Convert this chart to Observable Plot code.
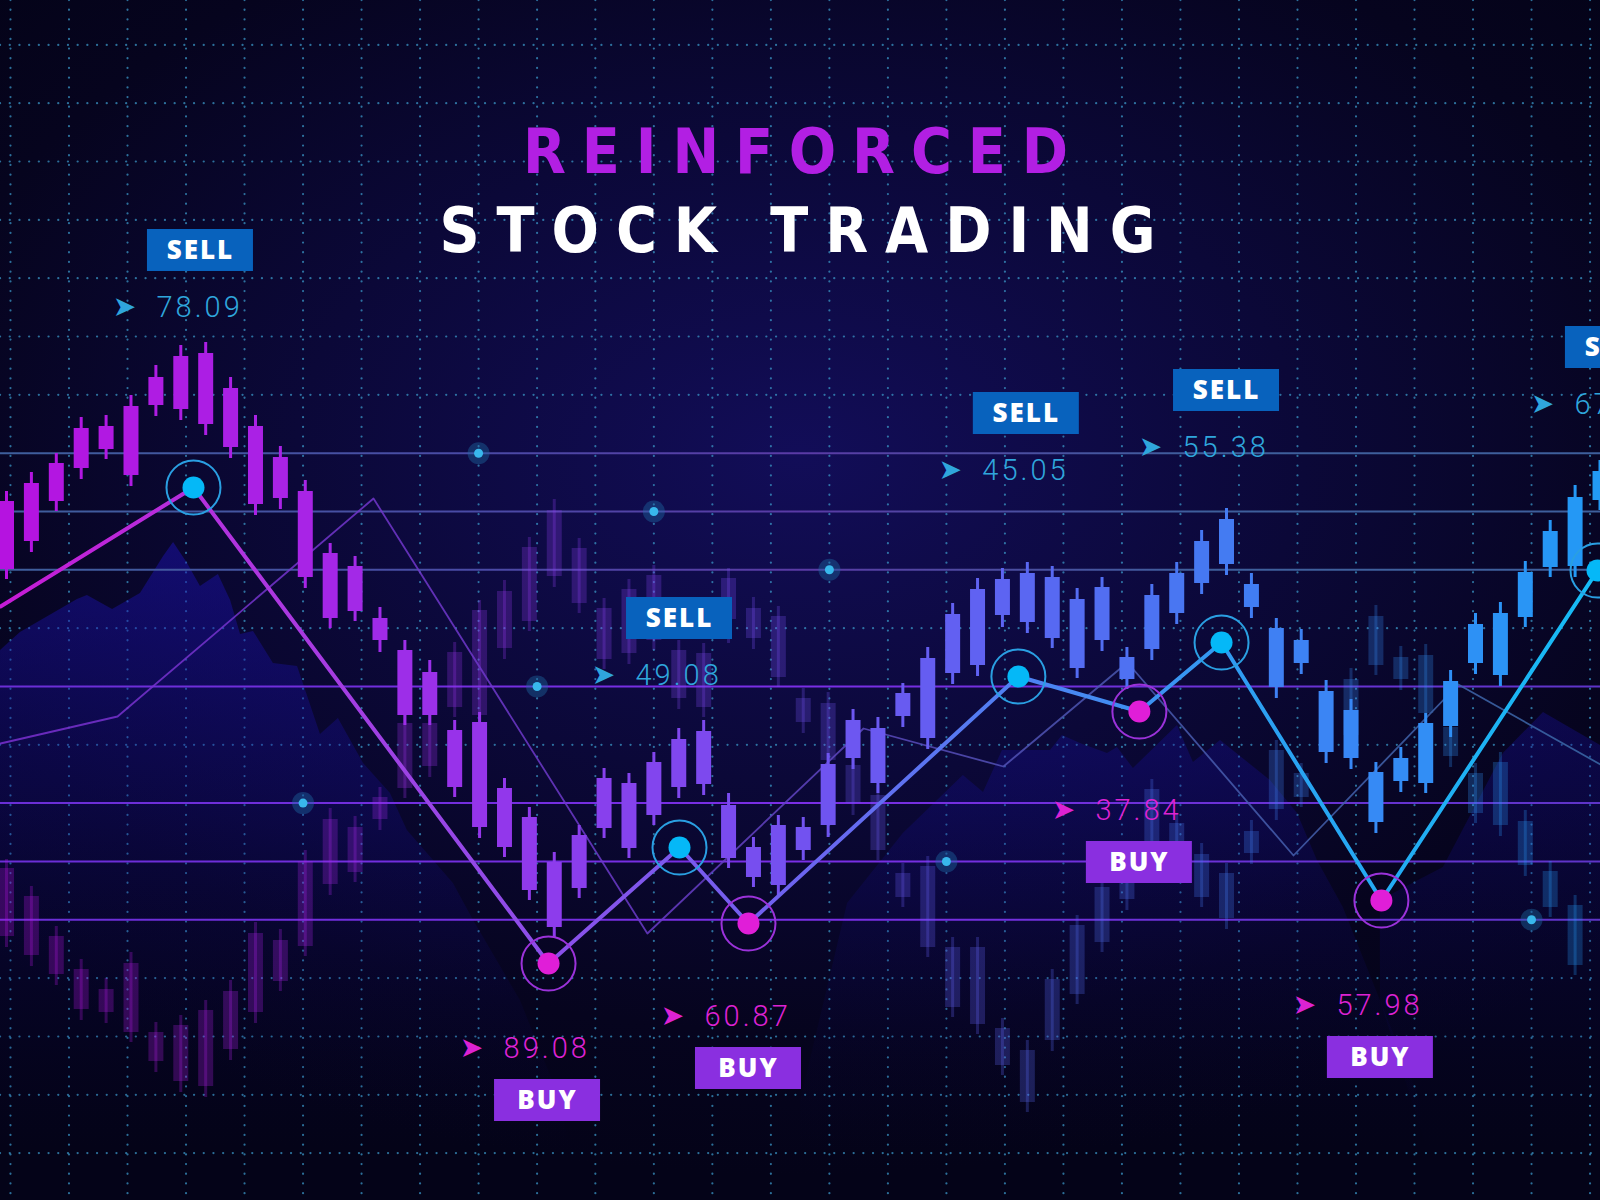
<!DOCTYPE html>
<html>
<head>
<meta charset="utf-8">
<script src="https://cdn.jsdelivr.net/npm/d3@7"></script>
<script src="https://cdn.jsdelivr.net/npm/@observablehq/plot@0.6"></script>
<style>
  html, body { margin: 0; padding: 0; overflow: hidden; background: #05041a; }
  #chart svg { display: block; }
</style>
</head>
<body>
<div id="chart"></div>
<script>
// candle index on x, price on y (0 at the bottom edge, 120 at the top)
// front candles: [high, bodyTop, bodyBottom, low], one per index 0..64
const front = [
  [70.9,69.9,63.1,62.1],[72.8,71.7,65.9,64.8],[74.7,73.7,69.9,68.9],[78.3,77.2,73.2,72.1],
  [78.5,77.4,75.1,74.1],[80.5,79.4,72.5,71.4],[83.5,82.3,79.5,78.4],[85.5,84.4,79.1,78.0],
  [85.8,84.7,77.6,76.5],[82.3,81.2,75.3,74.2],[78.5,77.4,69.6,68.5],[75.4,74.3,70.2,69.1],
  [72.0,70.9,62.3,61.2],[65.7,64.7,58.2,57.2],[64.4,63.4,58.9,57.9],[59.3,58.2,56.0,54.8],
  [56.0,55.0,48.5,47.5],[54.0,52.8,48.5,47.5],[48.0,47.0,41.3,40.3],[48.8,47.8,37.3,36.2],
  [42.2,41.2,35.3,34.3],[39.3,38.3,31.0,30.0],[34.8,33.8,27.3,26.3],[37.5,36.5,31.2,30.2],
  [43.2,42.2,37.2,36.2],[42.7,41.7,35.2,34.2],[44.8,43.8,38.5,37.5],[47.2,46.1,41.3,40.2],
  [48.0,46.9,41.6,40.5],[40.7,39.5,34.2,33.2],[36.3,35.3,32.3,31.3],[38.5,37.5,31.5,30.5],
  [38.3,37.3,35.0,34.0],[44.7,43.6,37.5,36.3],[49.1,48.0,44.2,43.1],[48.3,47.2,41.7,40.7],
  [51.7,50.7,48.4,47.3],[55.3,54.2,46.2,45.1],[59.7,58.6,52.7,51.6],[62.2,61.1,53.5,52.4],
  [63.2,62.1,58.5,57.3],[63.8,62.7,57.8,56.7],[63.4,62.3,56.2,55.2],[61.2,60.1,53.2,52.2],
  [62.3,61.3,56.0,54.9],[55.3,54.3,52.1,51.1],[61.6,60.5,55.1,54.0],[63.8,62.7,58.7,57.6],
  [67.0,65.9,61.7,60.6],[69.2,68.1,63.6,62.5],[62.7,61.6,59.3,58.2],[58.2,57.2,51.3,50.2],
  [57.1,56.0,53.7,52.6],[52.0,50.9,44.8,43.7],[50.1,49.0,44.2,43.1],[43.8,42.8,37.8,36.7],
  [45.3,44.2,41.9,40.8],[48.7,47.7,41.7,40.7],[53.0,51.9,47.4,46.3],[58.7,57.6,53.7,52.6],
  [59.8,58.7,52.5,51.4],[63.9,62.8,58.3,57.3],[68.0,66.9,63.3,62.3],[71.5,70.3,63.4,62.3],
  [74.0,72.9,70.0,69.0]
]

// faded candles behind: [index, high, bodyTop, bodyBottom, low]
const back = [
  [0,34.1,33.2,26.4,25.3],[1,31.4,30.4,24.5,23.4],[2,27.4,26.4,22.6,21.5],[3,24.1,23.1,19.1,18.0],
  [4,22.2,21.1,18.8,17.7],[5,24.8,23.7,16.8,15.8],[6,17.8,16.8,13.9,12.8],[7,18.5,17.5,11.9,10.8],
  [8,20.0,19.0,11.4,10.3],[9,22.0,20.9,15.1,14.0],[10,27.8,26.7,18.8,17.7],[11,27.1,26.0,21.9,20.9],
  [12,35.0,33.9,25.4,24.4],[13,39.2,38.1,31.6,30.5],[14,38.4,37.3,32.8,31.8],[15,41.3,40.3,38.1,37.0],
  [16,48.7,47.7,41.2,40.2],[17,48.7,47.7,43.4,42.3],[18,55.8,54.8,49.3,48.3],[19,60.0,59.0,48.5,47.5],
  [20,62.0,60.9,55.2,54.1],[21,66.3,65.3,57.9,56.9],[22,70.1,69.0,62.4,61.3],[23,66.2,65.2,59.7,58.7],
  [24,60.2,59.2,54.1,53.1],[25,62.1,61.1,54.7,53.6],[26,63.5,62.5,56.0,55.0],[27,56.0,55.0,50.2,49.1],
  [28,55.7,54.7,49.3,48.3],[29,63.2,62.2,58.1,55.7],[30,60.3,59.2,56.2,55.1],[31,59.4,58.4,52.3,51.3],
  [32,51.2,50.2,47.8,46.7],[33,50.8,49.7,44.0,43.0],[34,44.5,43.5,39.7,38.5],[35,41.5,40.5,35.0,34.0],
  [36,33.7,32.7,30.3,29.3],[37,34.4,33.4,25.3,24.3],[38,26.3,25.3,19.3,18.3],[39,26.3,25.3,17.6,16.6],
  [40,18.2,17.2,13.5,12.5],[41,16.0,15.0,9.8,8.8],[42,23.1,22.1,16.0,14.9],[43,28.5,27.5,20.6,19.6],
  [44,32.3,31.3,25.8,24.8],[45,33.3,32.3,30.1,29.0],[46,42.1,41.1,35.8,34.8],[47,38.7,37.7,33.0,32.0],
  [48,35.7,34.6,30.3,29.3],[49,33.7,32.7,28.2,27.1],[50,38.0,36.9,34.7,33.6],[51,46.0,45.0,39.1,38.0],
  [52,43.7,42.7,40.3,39.3],[54,53.2,52.1,46.5,45.5],[55,59.5,58.4,53.5,52.5],[56,55.4,54.3,52.1,51.0],
  [57,55.6,54.5,48.7,47.7],[58,48.4,47.3,44.4,43.3],[59,43.7,42.7,38.7,37.7],[60,44.8,43.8,37.5,36.4],
  [61,39.0,37.9,33.5,32.4],[62,33.9,32.9,29.3,28.3],[63,30.5,29.5,23.5,22.5]
]

// trade path (thick line) and its turning points
const pathX = [-0.24, 7.51, 21.77, 27.03, 29.8, 40.64, 45.5, 48.8, 55.22, 63.9]
const pathY = [59.4, 71.3, 23.7, 35.3, 27.7, 52.4, 48.9, 55.8, 30.0, 63.0]
const pathSignal = ["", "sell", "buy", "sell", "buy", "sell", "buy", "sell", "buy", "sell"]

// thin trend line behind
const trendX = [-0.24, 4.46, 14.74, 25.74, 34.42, 40.04, 45.02, 51.69, 58.31, 64.02]
const trendY = [45.7, 48.4, 70.2, 26.7, 47.2, 43.4, 53.8, 34.5, 51.6, 43.6]

// shaded volume-like silhouettes
const leftAreaX = [-0.24, 0.56, 2.85, 3.25, 4.26, 5.38, 6.31, 6.71, 7.27, 7.79, 8.51, 9.0, 9.4, 9.92, 10.72, 11.69, 12.61, 13.33, 14.34, 15.42, 16.1, 17.15, 17.95, 18.76, 20.64, 22.25, 23.05]
const leftAreaY = [55.0, 56.8, 60.1, 60.5, 59.1, 60.7, 64.4, 65.8, 63.7, 61.4, 62.6, 60.0, 56.6, 56.9, 53.7, 53.4, 46.6, 48.2, 43.7, 40.7, 37.0, 34.0, 31.7, 28.0, 20.0, 10.0, 0]
const rightAreaX = [31.9, 33.78, 36.02, 38.43, 39.24, 40.0, 41.93, 42.41, 43.13, 44.22, 44.62, 45.26, 47.03, 47.67, 48.76, 50.76, 51.85, 52.65, 53.69, 55.18, 56.79]
const rightAreaY = [10.0, 29.7, 36.7, 42.5, 40.8, 45.0, 45.0, 46.5, 45.7, 44.7, 45.3, 43.2, 47.5, 43.8, 46.0, 42.0, 38.7, 34.0, 29.3, 20.0, 10.0]
const edgeAreaX = [55.18, 57.71, 60.12, 61.73, 64.02]
const edgeAreaY = [10.0, 33.3, 44.7, 48.8, 45.5]

// grid
const gridX = [0.16, 2.51, 4.86, 7.21, 9.56, 11.91, 14.26, 16.61, 18.96, 21.31, 23.65, 26.0, 28.35, 30.7, 33.05, 35.4, 37.75, 40.1, 42.45, 44.8, 47.15, 49.5, 51.85, 54.2, 56.55, 58.9, 61.25, 63.6]
const gridY = [115.56, 109.73, 103.9, 98.06, 92.23, 86.4, 80.57, 57.23, 45.57, 22.24, 16.4, 10.57, 4.74]
const levelsBlue = [74.73, 68.9, 63.07]
const levelsPurple = [51.4, 39.74, 33.9, 28.07]

// glowing grid nodes
const nodeX = [18.96, 26.0, 21.31, 11.91, 33.05, 37.75, 61.25]
const nodeY = [74.73, 68.9, 51.4, 39.74, 63.07, 33.9, 28.07]

// signal tags
const sellTagX = [7.79, 27.03, 40.96, 49.0, 64.74]
const sellTagY = [95.0, 58.2, 78.7, 81.0, 85.3]
const sellValues = ["78.09", "49.08", "45.05", "55.38", "67.45"]
const buyTagX = [21.73, 29.8, 45.5, 55.18]
const buyTagY = [10.0, 13.2, 33.8, 14.3]
const buyValues = ["89.08", "60.87", "37.84", "57.98"]

const title = "REINFORCED"
const subtitle = "STOCK TRADING"

const frontCandles = front.map(([high, top, bottom, low], i) => ({i, high, top, bottom, low}))
const backCandles = back.map(([i, high, top, bottom, low]) => ({i, high, top, bottom, low}))
const path = pathX.map((x, k) => ({x, y: pathY[k], signal: pathSignal[k]}))
const trend = trendX.map((x, k) => ({x, y: trendY[k]}))
const areas = [
  ...leftAreaX.map((x, k) => ({x, y: leftAreaY[k], part: "left"})),
  ...rightAreaX.map((x, k) => ({x, y: rightAreaY[k], part: "right"})),
  ...edgeAreaX.map((x, k) => ({x, y: edgeAreaY[k], part: "edge"}))
]
const nodes = nodeX.map((x, k) => ({x, y: nodeY[k]}))
const sells = sellTagX.map((x, k) => ({x, y: sellTagY[k], value: sellValues[k], tag: "SELL"}))
const buys = buyTagX.map((x, k) => ({x, y: buyTagY[k], value: buyValues[k], tag: "BUY"}))

const gradients = () => {
  const defs = d3.create("svg:defs")
  const add = (id, stops, vertical) => {
    const g = defs.append("linearGradient").attr("id", id).attr("gradientUnits", "userSpaceOnUse")
      .attr("x1", 0).attr("y1", vertical ? 520 : 0).attr("x2", vertical ? 0 : 1600).attr("y2", vertical ? 1150 : 0)
    stops.forEach(([o, c, a]) => g.append("stop").attr("offset", o).attr("stop-color", c).attr("stop-opacity", a ?? 1))
  }
  add("zig", [[0, "#c61bd6"], [0.15, "#b034de"], [0.35, "#8a50ea"], [0.5, "#6c64f0"], [0.65, "#4c84f2"], [0.8, "#2aa2f2"], [1, "#16bcf5"]])
  add("trend", [[0, "#7a2fd0"], [0.4, "#6a3ac8"], [0.7, "#4a58b0"], [1, "#3a6aa8"]])
  add("shade", [[0, "#1d12b8", 0.5], [0.45, "#150d90", 0.3], [1, "#0a0650", 0]], true)
  add("levelBlue", [[0, "#3e5f9c"], [0.3, "#4a4aa6"], [0.5, "#5a3aa6"], [0.75, "#3e5f9c"], [1, "#3e5f9c"]])
  add("levelPurple", [[0, "#6a2ed6"], [0.5, "#7a2ee6"], [1, "#5e34c8"]])
  return defs.node()
}

const chart = Plot.plot({
  width: 1600,
  height: 1200,
  margin: 0,
  x: {domain: [-0.241, 64.02], axis: null},
  y: {domain: [0, 120], axis: null},
  color: {
    type: "linear",
    domain: [0, 12, 22, 32, 40, 48, 55, 64],
    range: ["#b513e0", "#a824e6", "#8d3cec", "#7252f0", "#5d64f2", "#4678f2", "#368af5", "#229af5"],
    interpolate: "rgb"
  },
  style: {
    background: "radial-gradient(ellipse 70% 60% at 50% 38%, #120d58 0%, #0b0838 45%, #06041e 80%, #040318 100%)",
    fontFamily: "Roboto"
  },
  marks: [
    gradients,
    Plot.ruleX(gridX, {stroke: "#3a94c4", strokeWidth: 2.2, strokeLinecap: "round", strokeDasharray: "0.1 9.6", strokeOpacity: 0.75}),
    Plot.ruleY(gridY, {stroke: "#3a94c4", strokeWidth: 2.2, strokeLinecap: "round", strokeDasharray: "0.1 9.6", strokeOpacity: 0.75}),
    Plot.areaY(areas, {x: "x", y: "y", z: "part", fill: "url(#shade)"}),
    Plot.ruleY(levelsBlue, {stroke: "url(#levelBlue)", strokeWidth: 2}),
    Plot.ruleY(levelsPurple, {stroke: "url(#levelPurple)", strokeWidth: 2}),
    Plot.ruleX(backCandles, {x: "i", y1: "low", y2: "high", stroke: "i", strokeWidth: 3, strokeOpacity: 0.28}),
    Plot.ruleX(backCandles, {x: "i", y1: "bottom", y2: "top", stroke: "i", strokeWidth: 15, strokeOpacity: 0.28}),
    Plot.line(trend, {x: "x", y: "y", stroke: "url(#trend)", strokeWidth: 1.8, strokeOpacity: 0.85}),
    Plot.ruleX(frontCandles, {x: "i", y1: "low", y2: "high", stroke: "i", strokeWidth: 3}),
    Plot.ruleX(frontCandles, {x: "i", y1: "bottom", y2: "top", stroke: "i", strokeWidth: 15}),
    Plot.line(path, {x: "x", y: "y", stroke: "url(#zig)", strokeWidth: 4}),
    Plot.dot(path.filter(d => d.signal === "sell"), {x: "x", y: "y", r: 27, stroke: "#2a9fe2", strokeWidth: 2, fill: "none"}),
    Plot.dot(path.filter(d => d.signal === "sell"), {x: "x", y: "y", r: 11, fill: "#05b8f7"}),
    Plot.dot(path.filter(d => d.signal === "buy"), {x: "x", y: "y", r: 27, stroke: "#9b32da", strokeWidth: 2, fill: "none"}),
    Plot.dot(path.filter(d => d.signal === "buy"), {x: "x", y: "y", r: 11, fill: "#e01ed8"}),
    Plot.dot(nodes, {x: "x", y: "y", r: 11, fill: "#1f6fa8", fillOpacity: 0.4}),
    Plot.dot(nodes, {x: "x", y: "y", r: 4.5, fill: "#38b8ec"}),
    // tags
    Plot.rect(sells, {x1: "x", x2: "x", y1: "y", y2: "y", insetLeft: -53, insetRight: -53, insetTop: -21, insetBottom: -21, fill: "#0862bd"}),
    Plot.rect(buys, {x1: "x", x2: "x", y1: "y", y2: "y", insetLeft: -53, insetRight: -53, insetTop: -21, insetBottom: -21, fill: "#8a2fe0"}),
    Plot.text([...sells, ...buys], {x: "x", y: "y", text: "tag", fill: "white", fontSize: 26, fontWeight: 800, fontFamily: "Open Sans"}),
    Plot.text(sells, {x: "x", y: "y", text: () => "➤", dx: -76, dy: 57, fill: "#2fa6dc", fontSize: 28, fontFamily: "DejaVu Sans"}),
    Plot.text(sells, {x: "x", y: "y", text: "value", dx: -44, dy: 57, textAnchor: "start", fill: "#2fa6dc", fontSize: 29, fontWeight: 300, fontFamily: "Roboto"}),
    Plot.text(buys, {x: "x", y: "y", text: () => "➤", dx: -76, dy: -52, fill: "#dd22d3", fontSize: 28, fontFamily: "DejaVu Sans"}),
    Plot.text(buys, {x: "x", y: "y", text: "value", dx: -44, dy: -52, textAnchor: "start", fill: "#dd22d3", fontSize: 29, fontWeight: 300, fontFamily: "Roboto"}),
    // heading
    Plot.text([title], {frameAnchor: "top", lineAnchor: "middle", dx: -5, dy: 153, fill: "#b21fe3", fontSize: 62, fontWeight: 700, fontFamily: "DejaVu Sans Condensed, DejaVu Sans"}),
    Plot.text([subtitle], {frameAnchor: "top", lineAnchor: "middle", dx: -3, dy: 232, fill: "#ffffff", fontSize: 62, fontWeight: 700, fontFamily: "DejaVu Sans Condensed, DejaVu Sans"})
  ]
})

const svg = d3.select(chart)
svg.selectAll("text").each(function () {
  const t = this.textContent
  const el = d3.select(this)
  if (t === title) el.attr("textLength", 545).attr("lengthAdjust", "spacing")
  else if (t === subtitle) el.attr("textLength", 716).attr("lengthAdjust", "spacing")
  else if (t === "SELL" || t === "BUY") el.style("letter-spacing", "2px")
  else if (sellValues.includes(t) || buyValues.includes(t)) el.style("letter-spacing", "3px")
})

d3.select('#chart').append(() => chart)
</script>
</body>
</html>
